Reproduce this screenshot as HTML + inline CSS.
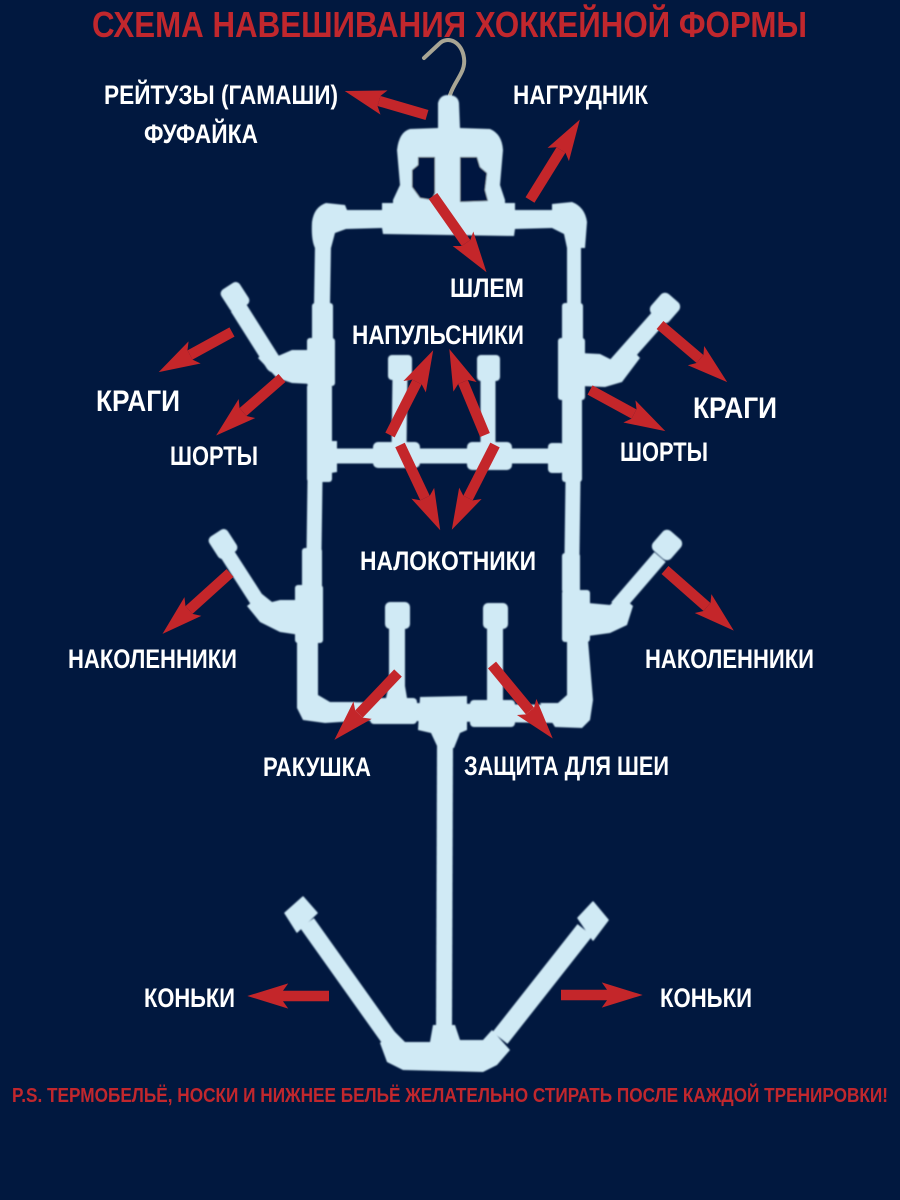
<!DOCTYPE html>
<html><head><meta charset="utf-8"><style>
html,body{margin:0;padding:0;background:#01183f}
svg{display:block}
text{font-family:"Liberation Sans",sans-serif;font-weight:bold;fill:#fff}
.r{fill:#c1272d}
.p{fill:none;stroke:#d0eaf5;stroke-linejoin:round;stroke-linecap:butt}
.a{stroke:#c4262a;stroke-width:10.5;fill:none;marker-end:url(#h)}
.j,.c{fill:#d0eaf5}
</style></head><body>
<svg width="900" height="1200" viewBox="0 0 900 1200" xmlns="http://www.w3.org/2000/svg">
<defs>
<marker id="h" markerUnits="strokeWidth" markerWidth="6" markerHeight="4" viewBox="-1 -2 5 4" refX="0" refY="0" orient="auto" overflow="visible">
<path d="M0,.5 L-.5,1.2 L3.4,0 L-.5,-1.2 L0,-.5 Z" fill="#c4262a"/>
</marker>
<filter id="b" x="-2%" y="-2%" width="104%" height="104%"><feGaussianBlur stdDeviation="0.8"/></filter>
</defs>
<rect width="900" height="1200" fill="#01183f"/>

<text class="r" x="92" y="37" font-size="36" textLength="715" lengthAdjust="spacingAndGlyphs">СХЕМА НАВЕШИВАНИЯ ХОККЕЙНОЙ ФОРМЫ</text>

<path d="M450,95 C455,80 466,72 464,58 C462,42 448,35 439,44 L424,58" fill="none" stroke="#a8a594" stroke-width="4" stroke-linecap="round"/>

<g filter="url(#b)">
<!-- hanger top -->
<path class="j" d="M438,103 Q440,95 448,95 Q458,95 459,103 L460,128 L490,129 Q502,134 503,150 L500,185 L505,200 L505,206 L393,206 L393,200 L400,185 L397,150 Q399,132 410,129 L438,128 Z"/>
<path fill="#01183f" d="M418,157 L435,157 L435,193 L432,200 L420,198 L412,187 L412,170 L418,165 Z"/>
<path fill="#01183f" d="M460,157 L477,157 L480,167 L487,173 L485,190 L488,201 L460,202 Z"/>
<!-- frame top -->
<path class="j" d="M312,222 Q314,207 326,203 L345,205 L347,210 L382,210 L382,203 L515,203 L515,210 L552,210 L552,204 L572,202 Q585,207 587,222 L585,248 L567,248 L564,234 L552,228 L515,229 L514,236 L383,234 L382,228 L346,229 L335,233 L331,248 L315,248 Q311,240 312,222 Z"/>
<!-- left vertical -->
<path class="p" stroke-width="16" d="M323,245 L322,305"/>
<rect class="j" x="312" y="303" width="21" height="40" rx="3"/>
<rect class="j" x="307" y="338" width="28" height="48" rx="3"/>
<rect class="j" x="307" y="384" width="25" height="98" rx="3"/>
<path class="p" stroke-width="15" d="M315,480 L314,552"/>
<!-- right vertical -->
<path class="p" stroke-width="14" d="M574,245 L574,305"/>
<rect class="j" x="562" y="303" width="21" height="40" rx="3"/>
<rect class="j" x="558" y="338" width="27" height="62" rx="3"/>
<rect class="j" x="562" y="396" width="20" height="86" rx="3"/>
<path class="p" stroke-width="15" d="M573,480 L572,555"/>
<!-- mid bar -->
<path class="p" stroke-width="15" d="M325,456 L555,456"/>
<rect class="j" x="373" y="442" width="47" height="26" rx="5"/>
<rect class="j" x="467" y="442" width="45" height="28" rx="5"/>
<rect class="j" x="548" y="443" width="16" height="30" rx="4"/>
<path class="j" d="M325,441 L337,441 L337,472 L325,474 Z"/>
<!-- mid uprights -->
<path class="p" stroke-width="15" d="M400,375 L399,450"/>
<path class="p" stroke-width="15" d="M488,375 L488,450"/>
<rect class="j" x="388" y="355" width="24" height="25" rx="4"/>
<rect class="j" x="477" y="355" width="23" height="26" rx="4"/>
<!-- upper arms -->
<path class="p" stroke-width="17" d="M308,366 L274,364 L238,307"/>
<path class="j" d="M292,350 L312,350 L312,384 L292,383 L277,378 L258,358 L268,348 L278,356 Z"/>
<rect class="c" x="224" y="284" width="22" height="26" rx="5" transform="rotate(-33 235 297)"/>
<path class="p" stroke-width="17" d="M590,370 L614,368 L660,316"/>
<path class="j" d="M580,353 L600,354 L612,360 L628,345 L640,358 L622,382 L605,387 L580,386 Z"/>
<rect class="c" x="653" y="295" width="24" height="26" rx="6" transform="rotate(41 665 308)"/>
<!-- lower frame: left -->
<rect class="j" x="302" y="548" width="20" height="40" rx="3"/>
<rect class="j" x="295" y="585" width="28" height="58" rx="3"/>
<path class="j" d="M297,640 L318,640 L318,695 L330,702 L355,702 L355,721 L325,723 L303,720 L297,708 Z"/>
<!-- lower frame: right -->
<rect class="j" x="562" y="553" width="18" height="40" rx="3"/>
<rect class="j" x="562" y="590" width="28" height="52" rx="3"/>
<path class="j" d="M567,640 L588,640 L593,700 L590,720 L582,728 L555,727 L540,703 L558,703 L567,695 Z"/>
<!-- bottom bar -->
<path class="p" stroke-width="18" d="M340,711 L560,714"/>
<rect class="j" x="370" y="698" width="47" height="26" rx="4"/>
<rect class="j" x="470" y="700" width="45" height="27" rx="4"/>
<path class="j" d="M420,697 L467,696 L467,730 L460,733 L454,748 L438,748 L431,733 L418,730 Z"/>
<!-- lower arms -->
<path class="p" stroke-width="15" d="M262,608 L226,552"/>
<path class="j" d="M300,600 L280,600 L272,602 L262,594 L247,606 L260,622 L280,632 L300,635 Z"/>
<rect class="c" x="212" y="531" width="22" height="26" rx="5" transform="rotate(-33 223 544)"/>
<path class="p" stroke-width="15" d="M617,607 L660,557"/>
<path class="j" d="M588,603 L610,605 L620,595 L633,606 L627,625 L610,633 L588,636 Z"/>
<rect class="c" x="655" y="532" width="24" height="26" rx="6" transform="rotate(41 667 545)"/>
<!-- lower uprights -->
<path class="p" stroke-width="16" d="M397,620 L397,705"/>
<path class="p" stroke-width="16" d="M495,620 L495,705"/>
<path class="j" d="M390,680 L404,680 L407,698 L386,698 Z"/>
<rect class="j" x="385" y="602" width="25" height="27" rx="5"/>
<rect class="j" x="483" y="603" width="25" height="26" rx="5"/>
<!-- stem -->
<path class="p" stroke-width="16" d="M445,745 L444,1030"/>
<!-- skate bar -->
<path class="p" stroke-width="17" d="M307,923 L388,1037"/>
<path class="p" stroke-width="19" d="M585,930 L500,1038"/>
<path class="j" d="M285,913 L303,897 L317,913 L297,932 Z" stroke="#d0eaf5" stroke-width="1.5" stroke-linejoin="round"/>
<path class="j" d="M578,918 L593,902 L608,920 L593,940 Z" stroke="#d0eaf5" stroke-width="1.5" stroke-linejoin="round"/>
<path class="j" d="M380,1043 L393,1030 L405,1042 L430,1042 L433,1025 L455,1025 L460,1040 L483,1040 L492,1030 L510,1050 L497,1065 L483,1072 L403,1070 L387,1062 Z"/>
</g>

<!-- arrows -->
<path class="a" d="M427,115 L379,101"/>
<path class="a" d="M530,200 L561,150"/>
<path class="a" d="M433,196 L466,243"/>
<path class="a" d="M232,332 L190,355"/>
<path class="a" d="M282,378 L243,412"/>
<path class="a" d="M660,325 L700,359"/>
<path class="a" d="M590,390 L634,414"/>
<path class="a" d="M390,435 L417,382"/>
<path class="a" d="M485,435 L463,382"/>
<path class="a" d="M400,445 L425,498"/>
<path class="a" d="M495,445 L468,498"/>
<path class="a" d="M230,573 L189,610"/>
<path class="a" d="M665,570 L707,607"/>
<path class="a" d="M398,673 L359,714"/>
<path class="a" d="M492,665 L530,711"/>
<path class="a" d="M329,996 L283,996"/>
<path class="a" d="M561,995 L607,995"/>

<!-- labels -->
<text x="104" y="104" font-size="27" textLength="234" lengthAdjust="spacingAndGlyphs">РЕЙТУЗЫ (ГАМАШИ)</text>
<text x="144" y="143" font-size="27" textLength="114" lengthAdjust="spacingAndGlyphs">ФУФАЙКА</text>
<text x="513" y="104" font-size="27" textLength="135" lengthAdjust="spacingAndGlyphs">НАГРУДНИК</text>
<text x="450" y="297" font-size="27" textLength="74" lengthAdjust="spacingAndGlyphs">ШЛЕМ</text>
<text x="352" y="344" font-size="27" textLength="172" lengthAdjust="spacingAndGlyphs">НАПУЛЬСНИКИ</text>
<text x="96" y="411" font-size="30" textLength="84" lengthAdjust="spacingAndGlyphs">КРАГИ</text>
<text x="170" y="465" font-size="27" textLength="88" lengthAdjust="spacingAndGlyphs">ШОРТЫ</text>
<text x="693" y="418" font-size="30" textLength="84" lengthAdjust="spacingAndGlyphs">КРАГИ</text>
<text x="620" y="461" font-size="27" textLength="88" lengthAdjust="spacingAndGlyphs">ШОРТЫ</text>
<text x="360" y="570" font-size="27" textLength="176" lengthAdjust="spacingAndGlyphs">НАЛОКОТНИКИ</text>
<text x="68" y="668" font-size="27" textLength="169" lengthAdjust="spacingAndGlyphs">НАКОЛЕННИКИ</text>
<text x="645" y="668" font-size="27" textLength="169" lengthAdjust="spacingAndGlyphs">НАКОЛЕННИКИ</text>
<text x="263" y="776" font-size="27" textLength="108" lengthAdjust="spacingAndGlyphs">РАКУШКА</text>
<text x="464" y="775" font-size="27" textLength="205" lengthAdjust="spacingAndGlyphs">ЗАЩИТА ДЛЯ ШЕИ</text>
<text x="144" y="1007" font-size="27" textLength="91" lengthAdjust="spacingAndGlyphs">КОНЬКИ</text>
<text x="660" y="1007" font-size="27" textLength="92" lengthAdjust="spacingAndGlyphs">КОНЬКИ</text>
<text class="r" x="12" y="1102" font-size="20" textLength="876" lengthAdjust="spacingAndGlyphs">P.S. ТЕРМОБЕЛЬЁ, НОСКИ И НИЖНЕЕ БЕЛЬЁ ЖЕЛАТЕЛЬНО СТИРАТЬ ПОСЛЕ КАЖДОЙ ТРЕНИРОВКИ!</text>
</svg>
</body></html>
